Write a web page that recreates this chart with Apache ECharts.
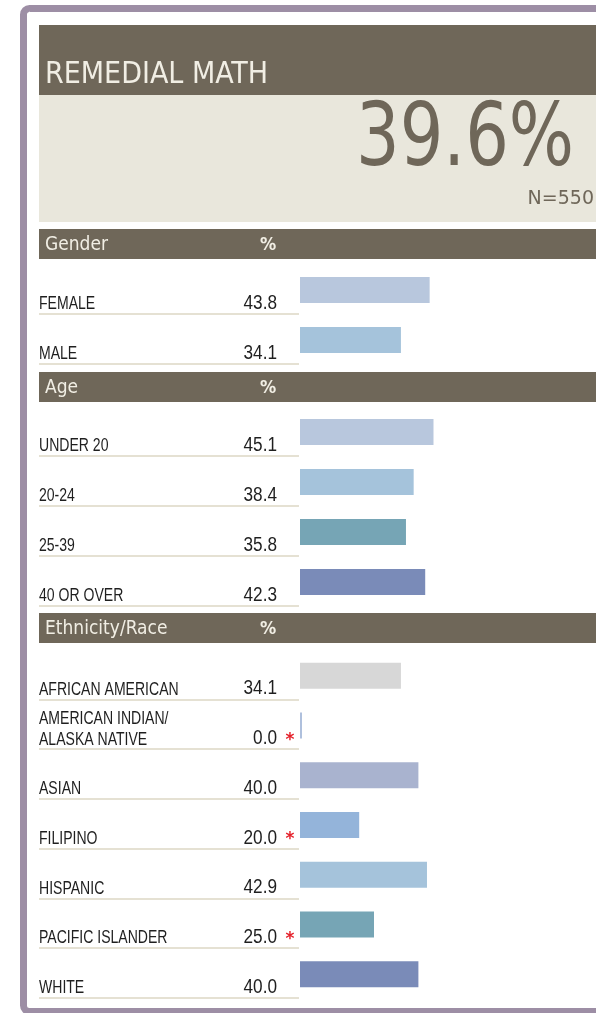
<!DOCTYPE html>
<html>
<head>
<meta charset="utf-8">
<title>Remedial Math</title>
<script src="https://cdn.jsdelivr.net/npm/echarts@6/dist/echarts.min.js"></script>
<style>
  html, body { margin: 0; padding: 0; background: #fff; }
  #chart { width: 596px; height: 1013px; }
</style>
</head>
<body>
<div id="chart"></div>
<script>
// data
const chartTitle = 'REMEDIAL MATH';
const overallPct = '39.6%';
const overallN = 'N=550';
const sectionNames = ['Gender', 'Age', 'Ethnicity/Race'];

const genderCats = ['FEMALE', 'MALE'];
const genderVals = [43.8, 34.1];
const genderFlags = [false, false];

const ageCats = ['UNDER 20', '20-24', '25-39', '40 OR OVER'];
const ageVals = [45.1, 38.4, 35.8, 42.3];
const ageFlags = [false, false, false, false];

const ethCats = ['AFRICAN AMERICAN', 'AMERICAN INDIAN/\nALASKA NATIVE', 'ASIAN', 'FILIPINO', 'HISPANIC', 'PACIFIC ISLANDER', 'WHITE'];
const ethVals = [34.1, 0.0, 40.0, 20.0, 42.9, 25.0, 40.0];
const ethFlags = [false, true, false, true, false, true, false];

// styles
const genderColors = ['#B8C7DD', '#A5C3DB'];
const ageColors = ['#B8C7DD', '#A5C3DB', '#76A5B5', '#7A8BB8'];
const ethColors = ['#D7D7D7', '#AFC0DD', '#A9B3CF', '#94B4DA', '#A5C3DB', '#76A5B5', '#7A8BB8'];

const SANS = '"Liberation Sans", Arial, sans-serif';
const HEAD = '"DejaVu Sans Condensed", "DejaVu Sans", sans-serif';
const DARK = '#6F6759';
const HEAD_TXT = '#F1EEE4';
const LABEL_TXT = '#1F1F1F';

const sections = [
  { cats: genderCats, vals: genderVals, flags: genderFlags, colors: genderColors, top: 265, height: 100, head: 229 },
  { cats: ageCats, vals: ageVals, flags: ageFlags, colors: ageColors, top: 407, height: 200, head: 372 },
  { cats: ethCats, vals: ethVals, flags: ethFlags, colors: ethColors, top: 651, height: 348, head: 613 }
];

const chart = echarts.init(document.getElementById('chart'));

const grids = [], xAxes = [], yAxes = [], series = [];
const graphics = [
  { type: 'rect', z: 0, shape: { x: 23.5, y: 8.5, width: 700, height: 1003, r: 6 },
    style: { fill: '#fff', stroke: '#9D8EA5', lineWidth: 7 } },
  { type: 'rect', z: 1, shape: { x: 39, y: 25, width: 600, height: 70 }, style: { fill: DARK } },
  { type: 'rect', z: 1, shape: { x: 39, y: 95, width: 600, height: 127 }, style: { fill: '#E9E7DC' } },
  { type: 'text', z: 2, x: 45, y: 75, style: { text: chartTitle, fill: HEAD_TXT, font: '30px ' + HEAD, verticalAlign: 'middle' } },
  { type: 'text', z: 2, x: 356, y: 142, scaleX: 0.78,
    style: { text: overallPct, fill: DARK, font: '88px "DejaVu Sans", sans-serif', verticalAlign: 'middle' } },
  { type: 'text', z: 2, x: 594, y: 199, style: { text: overallN, fill: DARK, font: '19px "DejaVu Sans", sans-serif', align: 'right', verticalAlign: 'middle' } }
];

sections.forEach(function (s, k) {
  graphics.push(
    { type: 'rect', z: 1, shape: { x: 39, y: s.head, width: 600, height: 30 }, style: { fill: DARK } },
    { type: 'text', z: 2, x: 45, y: s.head + 16, style: { text: sectionNames[k], fill: HEAD_TXT, font: '19px ' + HEAD, verticalAlign: 'middle' } },
    { type: 'text', z: 2, x: 268, y: s.head + 16, style: { text: '%', fill: HEAD_TXT, font: 'bold 18px ' + HEAD, align: 'center', verticalAlign: 'middle' } }
  );

  grids.push({ left: 300, width: 304, top: s.top, height: s.height });
  xAxes.push({ type: 'value', gridIndex: k, min: 0, max: 100, show: false });
  yAxes.push({ type: 'category', gridIndex: k, data: s.cats, inverse: true, show: false });

  series.push({
    type: 'bar',
    xAxisIndex: k,
    yAxisIndex: k,
    barWidth: 26,
    barMinHeight: 2,
    z: 3,
    data: s.vals.map(function (v, i) {
      return { value: v, itemStyle: { color: s.colors[i] } };
    })
  });

  // row text + underline, placed on the category band of each row
  series.push({
    type: 'custom',
    xAxisIndex: k,
    yAxisIndex: k,
    z: 2,
    silent: true,
    encode: { x: 0, y: 1 },
    data: s.cats.map(function (c, i) { return [s.vals[i], c]; }),
    renderItem: function (params, api) {
      const i = params.dataIndex;
      const y = api.coord([0, api.value(1)])[1];
      const band = api.size([0, 1])[1];
      const x0 = params.coordSys.x;
      const base = y + 20;
      const yy = Math.round(y + band / 2 - 1);
      const children = [{
        type: 'line',
        shape: { x1: x0 - 261, y1: yy, x2: x0 - 1, y2: yy },
        style: { stroke: '#E5E1D3', lineWidth: 2 }
      }];
      const lines = s.cats[i].split('\n');
      lines.forEach(function (l, j) {
        children.push({
          type: 'text', x: x0 - 261, y: base - 6 - (lines.length - 1 - j) * 21, scaleX: 0.78,
          style: { text: l, fill: LABEL_TXT, font: '18px ' + SANS, verticalAlign: 'middle' }
        });
      });
      children.push({
        type: 'text', x: x0 - 23, y: base - 7, scaleX: 0.86,
        style: { text: api.value(0).toFixed(1), fill: LABEL_TXT, font: '20px ' + SANS, align: 'right', verticalAlign: 'middle' }
      });
      if (s.flags[i]) {
        children.push({
          type: 'text', x: x0 - 10, y: base - 5,
          style: { text: '*', fill: '#E5212B', font: 'bold 17px "DejaVu Sans", sans-serif', align: 'center', verticalAlign: 'middle' }
        });
      }
      return { type: 'group', children: children };
    }
  });
});

chart.setOption({
  animation: false,
  grid: grids,
  xAxis: xAxes,
  yAxis: yAxes,
  graphic: { elements: graphics },
  series: series
});

window.addEventListener('resize', function () { chart.resize(); });
</script>
</body>
</html>
